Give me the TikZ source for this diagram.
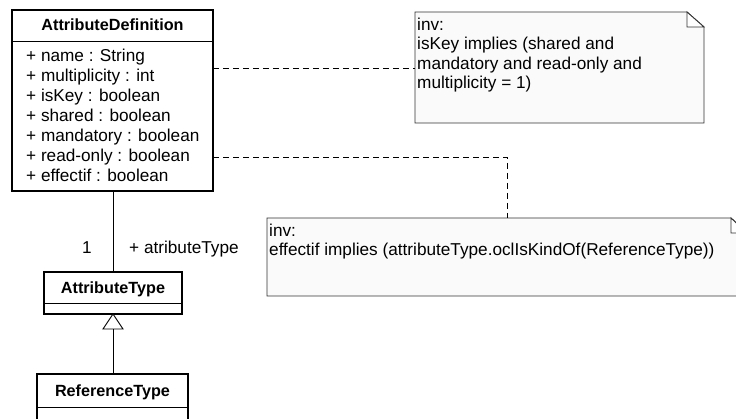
\documentclass[tikz,border=0pt]{standalone}
\usepackage{fontspec}
\setmainfont{Liberation Sans}
\begin{document}
\begin{tikzpicture}[x=1pt,y=-1pt,
  classbox/.style={draw=black,line width=2.4pt,fill=white},
  sep/.style={draw=black,line width=1pt},
  notebox/.style={draw=black!80,line width=0.9pt,fill=black!2},
  txt/.style={inner sep=0pt,anchor=base west,font=\fontsize{17.2}{19.5}\selectfont},
  ttl/.style={inner sep=0pt,anchor=base,font=\fontsize{16.2}{19}\selectfont\bfseries},
  link/.style={draw=black,line width=0.9pt},
  anchorline/.style={draw=black,line width=0.9pt,dash pattern=on 6pt off 4pt}]
\useasboundingbox (0,0) rectangle (736,419);

% ---- AttributeDefinition ----
\draw[classbox] (12,10) rectangle (213,191);
\draw[sep] (12,42) -- (213,42);
\coordinate (adBot) at (113,191);
\coordinate (adR1) at (213,68);
\coordinate (adR2) at (213,157);
\node[ttl] (adT) at (112.5,31) {AttributeDefinition};
\node[txt] (a1) at (26,62) {+ name : String};
\node[txt] (a2) at (26,82) {+ multiplicity : int};
\node[txt] (a3) at (26,102) {+ isKey : boolean};
\node[txt] (a4) at (26,122) {+ shared : boolean};
\node[txt] (a5) at (26,142) {+ mandatory : boolean};
\node[txt] (a6) at (26,162) {+ read-only : boolean};
\node[txt] (a7) at (26,182) {+ effectif : boolean};

% ---- note 1 ----
\draw[notebox] (415,12) -- (687,12) -- (704,27) -- (704,123) -- (415,123) -- cycle;
\draw[notebox,fill=white] (687,12) -- (687,27) -- (704,27) -- cycle;
\coordinate (n1L) at (415,68);
\node[txt] (n1a) at (417,31) {inv:};
\node[txt] (n1b) at (417,50) {isKey implies (shared and};
\node[txt] (n1c) at (417,69.5) {mandatory and read-only and};
\node[txt] (n1d) at (417,89) {multiplicity = 1)};

% ---- note 2 ----
\draw[notebox] (267,218) -- (731,218) -- (747,233) -- (747,296) -- (267,296) -- cycle;
\draw[notebox,fill=white] (731,218) -- (731,233) -- (747,233) -- cycle;
\coordinate (n2T) at (507,218);
\coordinate (bend) at (507,157);
\node[txt] (n2a) at (269,237) {inv:};
\node[txt] (n2b) at (269,256) {effectif implies (attributeType.oclIsKindOf(ReferenceType))};

% ---- constraint anchors ----
\draw[anchorline] (adR1) -- (n1L);
\draw[anchorline] (adR2) -- (bend) -- (n2T);

% ---- AttributeType ----
\draw[classbox] (44,272) rectangle (182,314);
\draw[sep] (44,304) -- (182,304);
\node[ttl] (atT) at (113,294) {AttributeType};
\coordinate (atTop) at (113,272);
\coordinate (atBot) at (113,314);

% ---- ReferenceType ----
\draw[classbox] (37,374) rectangle (188,430);
\draw[sep] (37,407) -- (188,407);
\node[ttl] (rtT) at (112.5,396) {ReferenceType};
\coordinate (rtTop) at (113,374);

% ---- association ----
\draw[link] (adBot) -- (atTop);
\node[txt] (mult) at (82,254) {1};
\node[txt] (role) at (129,254) {+ atributeType};

% ---- generalization ----
\coordinate (triB) at (113,329);
\draw[link] (rtTop) -- (triB);
\draw[link,fill=white] (atBot) -- (123,329) -- (103,329) -- cycle;
\end{tikzpicture}
\end{document}
